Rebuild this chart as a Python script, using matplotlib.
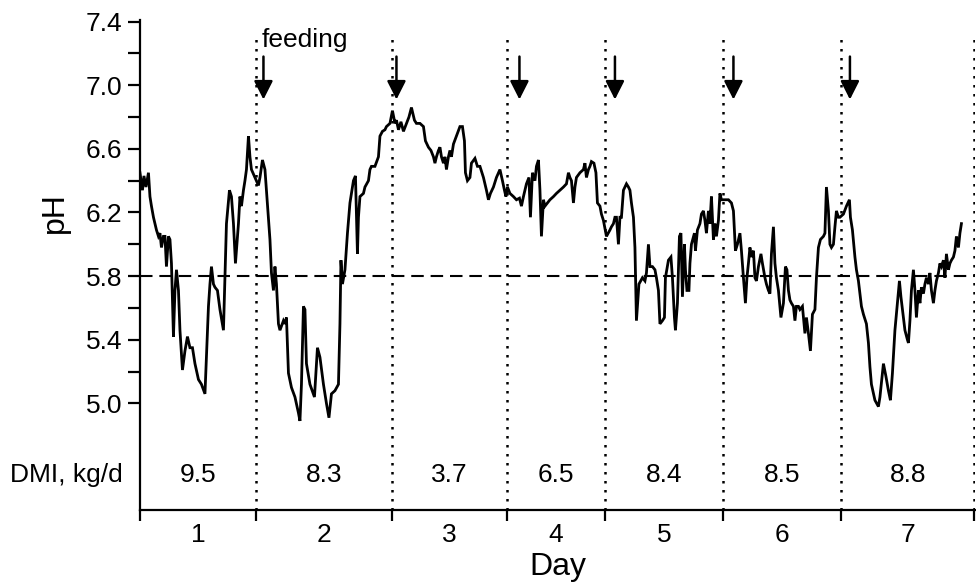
import matplotlib
matplotlib.use("Agg")
import matplotlib.pyplot as plt
import numpy as np

plt.rcParams['font.family'] = ['Liberation Sans', 'DejaVu Sans']

# time (h from start of record) and ruminal pH
hours = [
    0.0, 0.5, 0.8, 1.2, 1.7, 2.0, 2.3, 2.7, 3.0, 3.3, 3.7, 4.0, 4.3, 4.7, 5.0, 5.3, 5.7, 6.0, 6.3, 6.7,
    7.0, 7.3, 7.7, 8.0, 8.5, 9.0, 9.5, 10.0, 10.5, 11.0, 11.7, 12.3, 13.0, 13.3, 13.7, 14.0, 14.3, 14.7,
    15.0, 15.5, 16.0, 16.7, 17.0, 17.3, 17.9, 18.3, 18.7, 19.1, 19.7, 20.0, 20.3, 20.7, 21.0, 21.3, 21.7,
    22.0, 22.3, 23.0, 23.7, 24.0, 24.5, 25.0, 25.3, 26.0, 26.3, 26.7, 27.0, 27.3, 27.7, 28.0, 28.7, 29.0,
    29.3, 29.7, 30.3, 31.0, 31.7, 32.0, 32.3, 32.7, 33.0,
    33.3, 34.0, 34.9, 35.5, 36.0, 36.7, 37.3, 37.8, 38.3, 39.0, 39.7, 40.0, 40.2, 40.5, 41.0, 41.5, 42.0,
    42.7, 43.1, 43.5, 43.7, 44.0, 44.7, 45.0, 45.7, 46.0, 46.3, 47.0, 47.7, 48.0, 48.5, 49.0, 49.3, 50.0,
    50.5, 51.0, 51.3, 51.7, 52.2, 52.7, 53.3, 53.8, 54.3, 54.9, 55.3, 56.0, 56.7, 57.1, 57.7, 58.2, 58.7,
    59.0, 59.3, 59.7, 60.0, 60.3, 60.7, 61.0, 61.3, 61.7, 62.0, 62.3, 62.7, 63.3, 64.0, 64.5, 64.9, 65.1,
    65.5, 66.0,
    66.3, 67.0, 67.5, 68.0, 68.7, 69.3, 69.7, 70.1, 70.7, 71.3, 72.0, 72.5, 72.9, 73.2, 73.5, 74.0, 74.7,
    75.3, 75.9, 76.3, 76.7, 77.0, 77.3, 77.8, 78.1, 78.5, 79.0, 79.3, 79.7, 80.0, 80.3, 80.7, 81.0, 81.5,
    82.0, 82.7, 83.3, 84.0, 84.7, 85.3, 85.7, 86.0, 86.3, 86.7, 87.0, 87.3, 88.0, 88.7, 89.0, 89.3, 89.7,
    90.0, 90.3, 90.8, 91.2, 91.5, 92.0, 92.3, 92.7, 93.3, 94.0, 94.3, 94.7, 95.0, 95.3, 95.7, 96.0, 96.3,
    96.7, 97.0, 97.3, 97.7, 98.0, 98.3, 98.7, 99.0,
    99.3, 99.8, 100.5, 101.0, 101.3, 101.7, 102.0, 102.5, 103.0, 103.3, 103.7, 104.0, 104.5, 104.9,
    105.1, 105.7, 106.2, 106.5, 106.9, 107.1, 107.5, 107.9, 108.2, 108.5, 108.9, 109.1, 109.4, 109.8,
    110.0, 110.3, 110.9, 111.1, 111.5, 112.0, 112.3, 112.7, 113.0, 113.3, 113.7, 114.0, 114.3, 114.7,
    115.0, 115.3, 115.7, 116.0, 116.3, 117.0, 117.7, 118.3, 118.7, 118.9, 119.1, 119.5, 120.0, 120.3,
    120.7, 121.1, 121.4, 121.7, 122.0, 122.3, 122.7, 123.0, 123.3, 123.7, 124.2, 124.5, 125.0, 125.3,
    125.7, 126.0, 126.3, 126.7, 127.0, 127.3, 127.7, 128.2, 128.7, 129.1, 129.4, 129.7, 130.0, 130.3,
    130.7, 131.0, 131.3, 131.7, 132.0,
    132.5, 133.0, 133.3, 133.7, 134.1, 134.5, 135.0, 135.3, 135.7, 136.1, 136.7, 137.0, 137.3, 137.7,
    138.0, 138.3, 138.7, 139.0, 139.3, 139.7, 140.0, 140.7, 141.3, 141.9, 142.1, 142.5, 143.0, 143.3,
    143.7, 144.0, 144.3, 144.7, 145.3, 145.7, 146.0, 146.3, 147.0, 147.7, 148.0, 148.7, 149.2, 149.7,
    150.1, 150.5, 151.0, 151.5, 151.9, 152.2, 152.7, 153.0, 153.5, 153.7, 154.0, 154.3, 154.7, 155.0,
    155.3, 155.7, 156.0, 156.3, 156.7, 157.0, 157.3, 157.7, 158.0, 158.3, 158.7, 159.0, 159.3, 159.7,
    160.0, 160.3, 160.7, 161.0, 161.3, 161.7, 162.0, 162.3, 162.7, 163.0, 163.3, 163.7, 164.0, 164.3,
]
ph = [
    6.45, 6.34, 6.43, 6.36, 6.45, 6.30, 6.24, 6.17, 6.13, 6.09, 6.05, 6.07, 5.98, 6.05, 6.05, 5.86, 6.05, 6.03, 5.88, 5.42,
    5.71, 5.84, 5.71, 5.46, 5.21, 5.33, 5.42, 5.35, 5.35, 5.25, 5.15, 5.12, 5.06, 5.29, 5.61, 5.75, 5.86, 5.75,
    5.73, 5.71, 5.59, 5.46, 5.79, 6.13, 6.34, 6.30, 6.13, 5.88, 6.13, 6.30, 6.24, 6.34, 6.40, 6.47, 6.68,
    6.55, 6.47, 6.42, 6.37, 6.42, 6.53, 6.47, 6.34, 6.03, 5.82, 5.71, 5.86, 5.75, 5.50, 5.46, 5.52, 5.50,
    5.54, 5.19, 5.10, 5.04, 4.94, 4.89, 5.12, 5.61, 5.59,
    5.25, 5.12, 5.04, 5.35, 5.29, 5.12, 5.00, 4.91, 5.06, 5.08, 5.12, 5.50, 5.90, 5.75, 5.84, 6.07, 6.26,
    6.40, 6.43, 5.94, 6.17, 6.30, 6.32, 6.36, 6.40, 6.47, 6.49, 6.49, 6.55, 6.68, 6.71, 6.72, 6.74, 6.76,
    6.84, 6.76, 6.78, 6.72, 6.77, 6.71, 6.76, 6.80, 6.86, 6.78, 6.76, 6.76, 6.74, 6.65, 6.61, 6.59, 6.55,
    6.51, 6.55, 6.59, 6.61, 6.55, 6.51, 6.55, 6.47, 6.55, 6.59, 6.55, 6.63, 6.68, 6.74, 6.74, 6.65, 6.45,
    6.40, 6.42,
    6.51, 6.54, 6.49, 6.49, 6.42, 6.34, 6.28, 6.32, 6.36, 6.42, 6.47, 6.40, 6.34, 6.30, 6.36, 6.32, 6.30,
    6.28, 6.29, 6.24, 6.30, 6.34, 6.38, 6.42, 6.17, 6.45, 6.40, 6.49, 6.53, 6.34, 6.05, 6.28, 6.24, 6.26,
    6.28, 6.30, 6.32, 6.34, 6.36, 6.38, 6.45, 6.42, 6.40, 6.26, 6.36, 6.42, 6.45, 6.47, 6.51, 6.42, 6.47,
    6.49, 6.52, 6.51, 6.45, 6.26, 6.24, 6.19, 6.15, 6.05, 6.09, 6.11, 6.13, 6.17, 6.17, 6.00, 6.17, 6.17,
    6.34, 6.36, 6.38, 6.36, 6.34, 6.26, 6.17, 5.98,
    5.52, 5.75, 5.79, 5.77, 5.82, 6.00, 5.86, 5.86, 5.84, 5.79, 5.71, 5.50, 5.52, 5.54,
    5.79, 5.90, 5.92, 5.79, 5.54, 5.46, 5.63, 6.05, 6.07, 5.67, 6.00, 5.84, 5.71, 5.71,
    5.88, 6.00, 6.07, 5.96, 6.09, 6.13, 6.19, 6.21, 6.15, 6.07, 6.21, 6.13, 6.30, 6.03,
    6.13, 6.05, 6.15, 6.32, 6.28, 6.28, 6.28, 6.26, 6.21, 6.09, 5.96, 6.00, 6.07, 5.96,
    5.79, 5.63, 5.79, 5.88, 5.98, 5.92, 5.96, 5.79, 5.77, 5.86, 5.94, 5.88, 5.79, 5.75,
    5.71, 5.69, 5.94, 6.11, 5.88, 5.79, 5.71, 5.54, 5.63, 5.86, 5.84, 5.71, 5.65, 5.63,
    5.61, 5.52, 5.61, 5.61, 5.59,
    5.61, 5.44, 5.54, 5.44, 5.33, 5.56, 5.59, 5.79, 5.98, 6.03, 6.05, 6.07, 6.36, 6.21,
    6.00, 5.98, 6.00, 6.11, 6.21, 6.17, 6.17, 6.19, 6.24, 6.28, 6.17, 6.09, 5.92, 5.84,
    5.77, 5.69, 5.61, 5.56, 5.50, 5.38, 5.23, 5.12, 5.02, 4.98, 5.04, 5.25, 5.17, 5.08,
    5.02, 5.19, 5.46, 5.63, 5.77, 5.67, 5.54, 5.46, 5.40, 5.38, 5.52, 5.71, 5.84, 5.71,
    5.54, 5.71, 5.63, 5.73, 5.69, 5.75, 5.79, 5.75, 5.82, 5.71, 5.63, 5.71, 5.77, 5.82,
    5.88, 5.86, 5.90, 5.79, 5.94, 5.84, 5.88, 5.90, 5.92, 5.96, 6.05, 5.98, 6.07, 6.13,
]

day_edges = [0.0, 23.3, 50.5, 73.4, 93.0, 116.7, 140.3, 166.8]
day_labels = ['1', '2', '3', '4', '5', '6', '7']
dmi = ['9.5', '8.3', '3.7', '6.5', '8.4', '8.5', '8.8']
feeding = [24.7, 51.3, 75.9, 95.0, 118.7, 142.0]
threshold = 5.8

fig = plt.figure(figsize=(9.76, 5.86), dpi=100)
ax = fig.add_axes([0.1434, 0.1297, 0.8555, 0.8362])

ymin, ymax = 4.33, 7.41
ax.set_xlim(0, 167)
ax.set_ylim(ymin, ymax)

ax.plot(hours, ph, color='black', lw=2.0, solid_joinstyle='miter')
ax.axhline(threshold, color='black', lw=1.5, linestyle=(0, (6, 3.3)))
ax.vlines(day_edges[1:], ymin, 7.33, color='black', lw=1.8, linestyles=(0, (1, 2.6)))

for t in feeding:
    ax.annotate('', xy=(t, 6.91), xytext=(t, 7.18),
                arrowprops=dict(arrowstyle='-|>,head_length=0.75,head_width=0.38',
                                color='black', lw=1.8, shrinkA=0, shrinkB=0,
                                mutation_scale=15))
ax.text(24.4, 7.285, 'feeding', fontsize=19, ha='left', va='center')

centers = [(a + b) / 2 for a, b in zip(day_edges[:-1], day_edges[1:])]
for c, v in zip(centers, dmi):
    ax.text(c, 4.55, v, fontsize=19, ha='center', va='center')
ax.text(-3.4, 4.55, 'DMI, kg/d', fontsize=19, ha='right', va='center', clip_on=False)

# axes styling
for s in ['top', 'right']:
    ax.spines[s].set_visible(False)
for s in ['left', 'bottom']:
    ax.spines[s].set_linewidth(1.6)

ax.set_yticks([5.0, 5.4, 5.8, 6.2, 6.6, 7.0, 7.4])
ax.set_yticks([5.2, 5.6, 6.0, 6.4, 6.8, 7.2], minor=True)
ax.set_yticklabels(['5.0', '5.4', '5.8', '6.2', '6.6', '7.0', '7.4'])
ax.tick_params(axis='y', which='both', direction='out', length=8.6, width=1.6, pad=4, labelsize=19)

ax.set_xticks(day_edges)
ax.set_xticklabels([])
ax.set_xticks(centers, minor=True)
ax.set_xticklabels(day_labels, minor=True)
ax.tick_params(axis='x', which='major', direction='out', length=8, width=1.6)
ax.tick_params(axis='x', which='minor', length=0, pad=9.5, labelsize=19)

ax.set_ylabel('pH', fontsize=23)
ax.yaxis.set_label_coords(-0.084, 0.606)
ax.set_xlabel('Day', fontsize=23)
ax.xaxis.set_label_coords(0.5, -0.0857)

fig.savefig('out.png', dpi=100)
